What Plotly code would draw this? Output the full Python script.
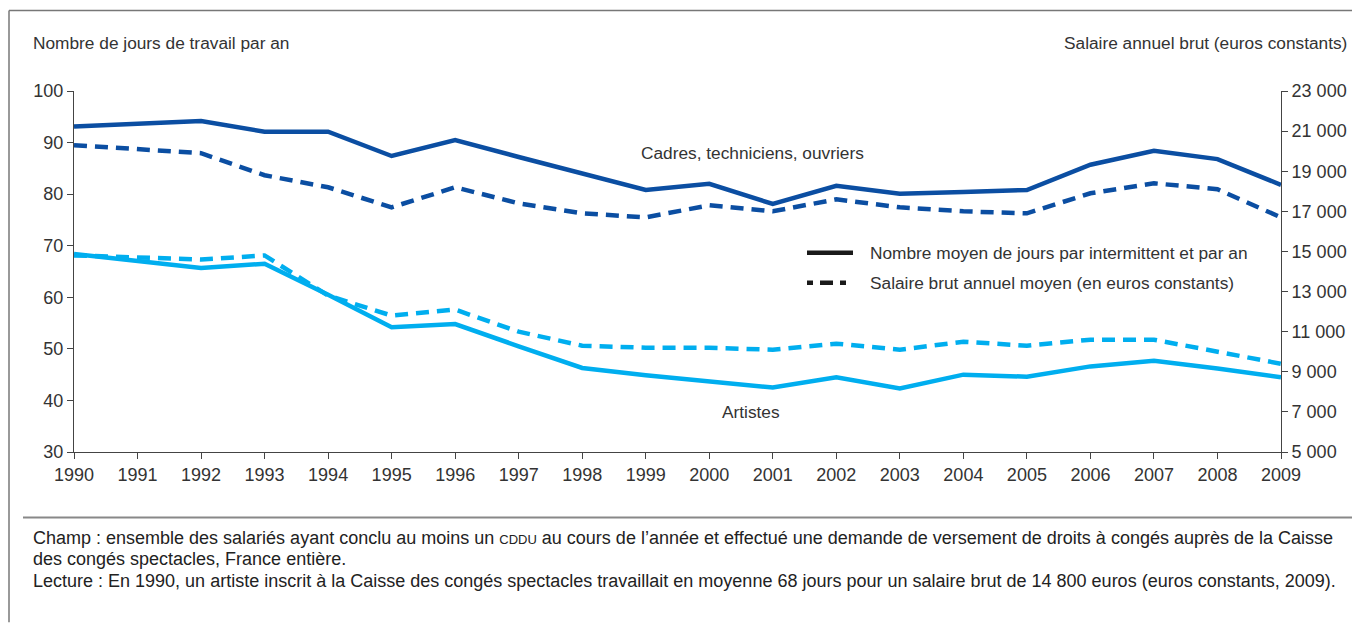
import plotly.graph_objects as go

years = list(range(1990, 2010))
cadres_jours = [93.1, 93.7, 94.2, 92.1, 92.1, 87.4, 90.5, 87.2, 84.0, 80.8,
                82.0, 78.1, 81.6, 80.1, 80.4, 80.8, 85.7, 88.4, 86.8, 81.8]
cadres_salaire = [20300, 20100, 19900, 18800, 18200, 17200, 18200, 17400, 16900, 16700,
                  17300, 17000, 17600, 17200, 17000, 16900, 17900, 18400, 18100, 16700]
artistes_jours = [68.4, 67.1, 65.7, 66.5, 60.5, 54.2, 54.8, 50.5, 46.3, 44.9,
                  43.7, 42.5, 44.5, 42.3, 45.0, 44.6, 46.6, 47.7, 46.2, 44.5]
artistes_salaire = [14800, 14700, 14600, 14800, 12800, 11800, 12100, 11000, 10300, 10200,
                    10200, 10100, 10400, 10100, 10500, 10300, 10600, 10600, 10000, 9400]

DARK = "#0B4EA2"
LIGHT = "#00AEEF"
TXT = "#333333"
FONT = "Liberation Sans, Arial, sans-serif"
OFF = 8  # page body margin
W, H = 1360 - OFF, 623 - OFF
L, R, T, B = 74 - OFF, 1360 - 1281, 91 - OFF, 623 - 452.5
PW, PH = W - L - R, H - T - B


def px(x):
    return (x - OFF - L) / PW


def py(y):
    return (H - B - (y - OFF)) / PH


fig = go.Figure()
fig.add_trace(go.Scatter(x=years, y=cadres_jours, mode="lines",
                         line=dict(color=DARK, width=4.5), yaxis="y", showlegend=False))
fig.add_trace(go.Scatter(x=years, y=cadres_salaire, mode="lines",
                         line=dict(color=DARK, width=4.5, dash="13px,8px"), yaxis="y2", showlegend=False))
fig.add_trace(go.Scatter(x=years, y=artistes_jours, mode="lines",
                         line=dict(color=LIGHT, width=4.5), yaxis="y", showlegend=False))
fig.add_trace(go.Scatter(x=years, y=artistes_salaire, mode="lines",
                         line=dict(color=LIGHT, width=4.5, dash="13px,8px"), yaxis="y2", showlegend=False))

axis_common = dict(showgrid=False, zeroline=False, showline=True, linecolor="#444",
                   linewidth=1, ticks="outside", ticklen=6, tickcolor="#444",
                   tickfont=dict(family=FONT, size=18, color=TXT))
fig.update_layout(
    width=W, height=H,
    margin=dict(l=L, r=R, t=T, b=B, pad=0),
    paper_bgcolor="white", plot_bgcolor="white",
    separators=", ",
    xaxis=dict(range=[1990, 2009], dtick=1, tick0=1990, **axis_common),
    yaxis=dict(range=[30, 100], dtick=10, tick0=30, **axis_common),
    yaxis2=dict(range=[5000, 23000], dtick=2000, tick0=5000, overlaying="y", side="right",
                tickformat=",d", **axis_common),
)

AF = dict(family=FONT, size=17.3, color=TXT)
FF = dict(family=FONT, size=18, color="#222")
annotations = [
    dict(text="Nombre de jours de travail par an", x=px(31), y=py(43), xanchor="left", yanchor="middle", font=AF),
    dict(text="Salaire annuel brut (euros constants)", x=px(1349), y=py(43), xanchor="right", yanchor="middle",
         font=AF),
    dict(text="Cadres, techniciens, ouvriers", x=px(752), y=py(153), xanchor="center", yanchor="middle", font=AF),
    dict(text="Artistes", x=px(751), y=py(412), xanchor="center", yanchor="middle", font=AF),
    dict(text="Nombre moyen de jours par intermittent et par an", x=px(868), y=py(253), xanchor="left",
         yanchor="middle", font=AF),
    dict(text="Salaire brut annuel moyen (en euros constants)", x=px(868), y=py(283), xanchor="left",
         yanchor="middle", font=AF),
    dict(text="Champ : ensemble des salariés ayant conclu au moins un <span style='font-size:13px'>CDDU</span> "
              "au cours de l’année et effectué une demande de versement de droits à congés auprès de la Caisse",
         x=px(31), y=py(539), xanchor="left", yanchor="middle", font=FF),
    dict(text="des congés spectacles, France entière.",
         x=px(31), y=py(560), xanchor="left", yanchor="middle", font=FF),
    dict(text="Lecture : En 1990, un artiste inscrit à la Caisse des congés spectacles travaillait en moyenne "
              "68 jours pour un salaire brut de 14 800 euros (euros constants, 2009).",
         x=px(31), y=py(582), xanchor="left", yanchor="middle", font=FF),
]
for a in annotations:
    a.update(xref="paper", yref="paper", showarrow=False)
fig.update_layout(annotations=annotations)

shapes = [
    dict(type="line", x0=px(807), x1=px(853), y0=py(253), y1=py(253), line=dict(color="#1a1a1a", width=4.5)),
    dict(type="line", x0=px(807), x1=px(853), y0=py(283), y1=py(283),
         line=dict(color="#1a1a1a", width=4.5, dash="6px,7px,13px,7px")),
    dict(type="line", x0=px(9), x1=px(1360), y0=py(10.5), y1=py(10.5), line=dict(color="#777", width=1.5)),
    dict(type="line", x0=px(9), x1=px(9), y0=py(10.5), y1=py(623), line=dict(color="#777", width=1.5)),
    dict(type="line", x0=px(23), x1=px(1360), y0=py(518), y1=py(518), line=dict(color="#888", width=2)),
]
for s in shapes:
    s.update(xref="paper", yref="paper")
fig.update_layout(shapes=shapes)

fig.write_html("out.html")
